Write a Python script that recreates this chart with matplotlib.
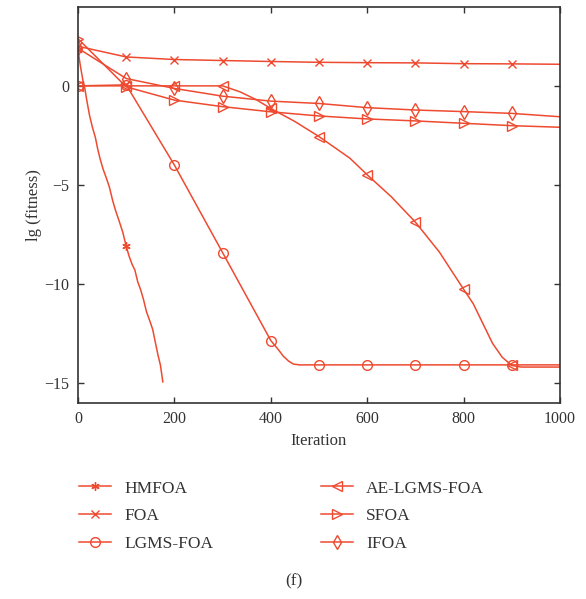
import numpy as np
import matplotlib
matplotlib.use("Agg")
import matplotlib.pyplot as plt

# ---------------------------------
# Data
# ---------------------------------
labels = ["HMFOA", "FOA", "LGMS-FOA", "AE-LGMS-FOA", "SFOA", "IFOA"]
markers = [(6, 2, 0), "x", "o", "<", ">", "d"]

hm_x = [0, 5, 10, 14, 18, 24, 30, 36, 41, 46, 52, 58, 65, 72, 78, 85, 93, 100,
        106, 112, 118, 124, 130, 136, 142, 148, 155, 160, 166, 171, 176]
hm_y = [1.8, 1.0, 0.3, -0.1, -0.7, -1.5, -2.1, -2.6, -3.2, -3.7, -4.2, -4.6, -5.1,
        -5.8, -6.3, -6.8, -7.4, -8.1, -8.6, -9.0, -9.3, -9.9, -10.3, -10.8, -11.4,
        -11.8, -12.3, -12.9, -13.6, -14.1, -14.95]

foa_x = [0, 100, 200, 300, 400, 500, 600, 700, 800, 900, 1000]
foa_y = [2.0, 1.46, 1.33, 1.28, 1.23, 1.19, 1.17, 1.16, 1.12, 1.11, 1.09]

lgms_x = [0, 100, 200, 300, 400, 415, 426, 437, 447, 460, 500, 600, 700, 800, 900, 1000]
lgms_y = [0.0, 0.05, -4.0, -8.42, -12.86, -13.3, -13.65, -13.9, -14.05, -14.09,
          -14.09, -14.09, -14.09, -14.09, -14.09, -14.09]

ae_x = [0, 100, 200, 300, 336, 370, 400, 450, 500, 564, 600, 650, 700, 750, 800,
        820, 840, 860, 880, 900, 920, 1000]
ae_y = [0.0, 0.0, 0.0, 0.0, -0.3, -0.7, -1.14, -1.8, -2.56, -3.65, -4.49, -5.6,
        -6.88, -8.4, -10.27, -11.0, -12.0, -13.0, -13.7, -14.12, -14.2, -14.2]

sfoa_x = [0, 100, 200, 300, 400, 500, 600, 700, 800, 900, 1000]
sfoa_y = [2.38, -0.05, -0.72, -1.05, -1.31, -1.52, -1.67, -1.77, -1.89, -2.01, -2.09]

ifoa_x = [0, 100, 200, 300, 400, 500, 600, 700, 800, 900, 1000]
ifoa_y = [1.9, 0.37, -0.13, -0.52, -0.77, -0.89, -1.1, -1.22, -1.3, -1.39, -1.56]

series = [(hm_x, hm_y), (foa_x, foa_y), (lgms_x, lgms_y),
          (ae_x, ae_y), (sfoa_x, sfoa_y), (ifoa_x, ifoa_y)]

# ---------------------------------
# Plot
# ---------------------------------
plt.rcParams["font.family"] = ["Liberation Serif", "DejaVu Serif"]
red = "#EE4A30"
dark = "#333333"

fig = plt.figure(figsize=(5.86, 5.99), dpi=100)
ax = fig.add_axes([0.1331, 0.3277, 0.8225, 0.6612])

handles = []
for (x, y), lab, m in zip(series, labels, markers):
    x = np.asarray(x)
    every = [i for i, v in enumerate(x) if v % 100 == 0 and v < 1000]
    ms = 7 if m in ("o", "<", ">", "d") else 6
    h, = ax.plot(x, y, color=red, lw=1.1, marker=m, markevery=every,
                 markersize=ms, markerfacecolor="none", markeredgecolor=red,
                 markeredgewidth=1.0, label=lab)
    handles.append(h)

ax.set_xlim(0, 1000)
ax.set_ylim(-16, 4)
ax.set_xticks([0, 200, 400, 600, 800, 1000])
ax.set_yticks([0, -5, -10, -15])
ax.set_yticklabels(["0", "\u22125", "\u221210", "\u221215"])
ax.tick_params(direction="in", top=True, right=True, length=4, width=1,
               colors=dark, labelsize=11.5, pad=6)
for s in ax.spines.values():
    s.set_color(dark)
    s.set_linewidth(1.2)

ax.set_xlabel("Iteration", fontsize=12, color=dark, labelpad=4)
ax.set_ylabel("lg (fitness)", fontsize=12, color=dark, labelpad=2)

leg = fig.legend(handles=handles, ncol=2, loc="upper left",
                 bbox_to_anchor=(0.135, 0.198), frameon=False, borderpad=0,
                 borderaxespad=0, fontsize=12.5, handlelength=1.85,
                 handletextpad=0.75, columnspacing=6.2, labelspacing=0.66)
for t in leg.get_texts():
    t.set_color(dark)

fig.text(0.502, 0.03, "(f)", ha="center", va="center", fontsize=12.5, color=dark)

fig.savefig("out.png", dpi=100)
